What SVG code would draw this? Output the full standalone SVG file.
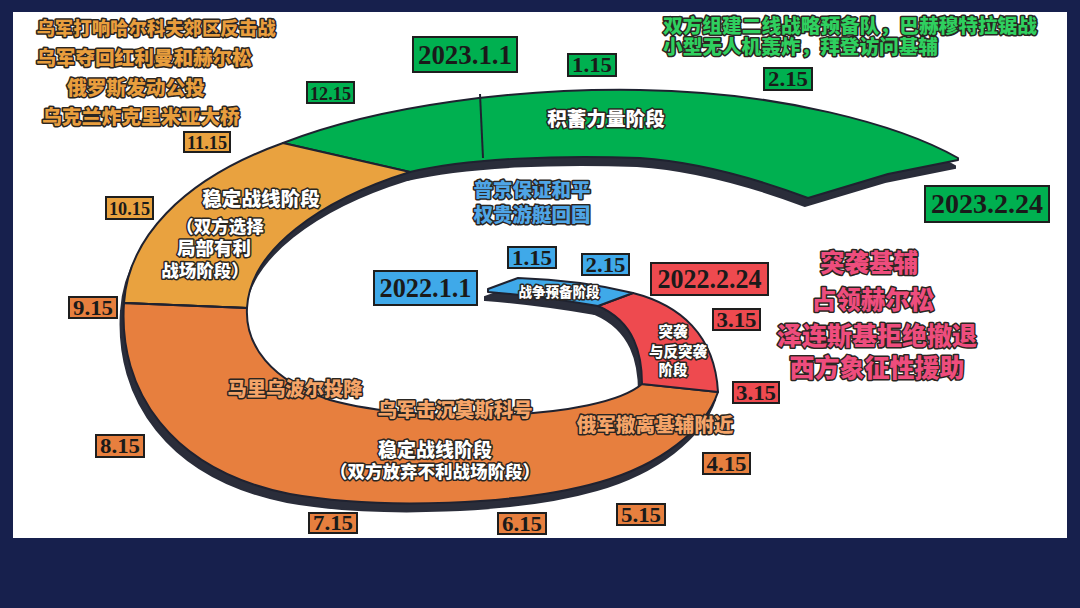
<svg xmlns="http://www.w3.org/2000/svg" width="1080" height="608" viewBox="0 0 1080 608">
<style>
.cj{font-family:"Noto Sans CJK SC","Noto Sans",sans-serif;font-weight:900;paint-order:stroke;stroke-linejoin:round;stroke:#2a2622;stroke-width:3}
.w{fill:#ffffff}
.or{fill:#E99E3D}
.gr{fill:#2FD05F}
.bl{fill:#4FA5E6}
.pk{fill:#EE4D7D}
.pe{fill:#F5A468}
.bx{stroke:#1e1e1e;stroke-width:2}
.dt{font-family:"Liberation Serif",serif;font-weight:bold;fill:#1a1a1a;text-anchor:middle}
.band{stroke:#1f2230;stroke-width:2;stroke-linejoin:round}
.sh{fill:#2a2d3a;stroke:#2a2d3a;stroke-width:2}
.sep{stroke:#1f2230;stroke-width:2;fill:none}
.c{text-anchor:middle}
</style>
<rect x="0" y="0" width="1080" height="608" fill="#17204D"/>
<rect x="13" y="12" width="1054" height="526" fill="#ffffff"/>

<g id="connectors">
<g id="shadows" class="sh" transform="translate(-3,8)">
<path d="M283,143 C380,105 520,88 640,90 C780,92 900,125 958,158 L958,160 L888,174 L808,198 C760,180 700,162 640,158 C560,155 470,158 410,172 Z"/>
<path d="M124,303 C128,240 180,180 283,143 L410,172 C320,200 250,250 247,308 Z"/>
<path d="M124,303 C118,390 170,470 290,494 C380,510 520,505 600,482 C660,465 705,430 718,392 L642,384 C600,420 420,425 330,400 C270,380 245,345 247,308 Z"/>
<path d="M633,293 C680,305 715,335 718,392 L642,384 C642,355 635,322 598,306 Z"/>
<path d="M488,289 L518,278 Q580,280 633,293 L598,306 Q540,296 488,292 Z"/>
</g>
</g>

<g id="stage-accumulate">
<path class="band" fill="#00B050" d="M283,143 C380,105 520,88 640,90 C780,92 900,125 958,158 L958,160 L888,174 L808,198 C760,180 700,162 640,158 C560,155 470,158 410,172 Z"/>
<line class="sep" x1="480" y1="94" x2="483" y2="158"/>
<text class="cj w c" x="606" y="126" font-size="19.6">积蓄力量阶段</text>
</g>

<g id="stage-stable-local">
<path class="band" fill="#E9A23F" d="M124,303 C128,240 180,180 283,143 L410,172 C320,200 250,250 247,308 Z"/>
<text class="cj w c" x="261" y="206" font-size="19.6">稳定战线阶段</text>
<text class="cj w c" x="220" y="233" font-size="17.5">（双方选择</text>
<text class="cj w c" x="214" y="255" font-size="18.5">局部有利</text>
<text class="cj w c" x="205" y="277" font-size="17.5">战场阶段）</text>
</g>

<g id="stage-stable-abandon">
<path class="band" fill="#E77F3E" d="M124,303 C118,390 170,470 290,494 C380,510 520,505 600,482 C660,465 705,430 718,392 L642,384 C600,420 420,425 330,400 C270,380 245,345 247,308 Z"/>
<line class="sep" x1="124" y1="303" x2="247" y2="308"/>
<text class="cj w c" x="435" y="457" font-size="19">稳定战线阶段</text>
<text class="cj w c" x="435" y="478" font-size="17.5">（双方放弃不利战场阶段）</text>
</g>

<g id="stage-raid">
<path class="band" fill="#EE4A4F" d="M633,293 C680,305 715,335 718,392 L642,384 C642,355 635,322 598,306 Z"/>
<text class="cj w c" x="673" y="337" font-size="14.5">突袭</text>
<text class="cj w c" x="678" y="357" font-size="14.5">与反突袭</text>
<text class="cj w c" x="673" y="375" font-size="14.5">阶段</text>
</g>

<g id="stage-prepare">
<path class="band" fill="#3FA9E9" d="M488,289 L518,278 Q580,280 633,293 L598,306 Q540,296 488,292 Z"/>
<text class="cj w c" x="559" y="297" font-size="13.5" stroke-width="2.5">战争预备阶段</text>
</g>

<g id="events-2022-blue">
<text class="cj bl c" x="532" y="197" font-size="19.5">普京保证和平</text>
<text class="cj bl c" x="532" y="222" font-size="19.5">权贵游艇回国</text>
</g>

<g id="events-2022-red">
<text class="cj pk c" x="869" y="272" font-size="24.5">突袭基辅</text>
<text class="cj pk c" x="873" y="309" font-size="24.5">占领赫尔松</text>
<text class="cj pk c" x="877" y="345" font-size="25">泽连斯基拒绝撤退</text>
<text class="cj pk c" x="877" y="377" font-size="25">西方象征性援助</text>
</g>

<g id="events-orange">
<text class="cj pe c" x="295" y="396" font-size="19.3">马里乌波尔投降</text>
<text class="cj pe c" x="455" y="417" font-size="19.4">乌军击沉莫斯科号</text>
<text class="cj pe c" x="655" y="432" font-size="19.6">俄军撤离基辅附近</text>
</g>

<g id="events-topleft">
<text class="cj or c" x="156" y="35" font-size="18.4">乌军打响哈尔科夫郊区反击战</text>
<text class="cj or c" x="144" y="65" font-size="19.6">乌军夺回红利曼和赫尔松</text>
<text class="cj or c" x="136" y="95" font-size="19.7">俄罗斯发动公投</text>
<text class="cj or c" x="141" y="124" font-size="19.8">乌克兰炸克里米亚大桥</text>
</g>

<g id="events-green">
<text class="cj gr" x="663" y="33" font-size="19" textLength="374" lengthAdjust="spacingAndGlyphs">双方组建二线战略预备队，巴赫穆特拉锯战</text>
<text class="cj gr" x="663" y="54" font-size="19" textLength="275" lengthAdjust="spacingAndGlyphs">小型无人机轰炸，拜登访问基辅</text>
</g>

<g id="date-2022-1-1"><rect class="bx" x="374" y="271" width="103" height="34" fill="#3FA9E9"/><text class="dt" x="425.5" y="297" font-size="27" textLength="92" lengthAdjust="spacingAndGlyphs">2022.1.1</text></g>
<g id="date-b-1-15"><rect class="bx" x="508" y="247" width="48" height="21" fill="#3FA9E9"/><text class="dt" x="532" y="265" font-size="20" textLength="40" lengthAdjust="spacingAndGlyphs">1.15</text></g>
<g id="date-b-2-15"><rect class="bx" x="582" y="254" width="47" height="21" fill="#3FA9E9"/><text class="dt" x="605.5" y="272" font-size="20" textLength="40" lengthAdjust="spacingAndGlyphs">2.15</text></g>
<g id="date-2022-2-24"><rect class="bx" x="651" y="263" width="117" height="32" fill="#EE4A4F"/><text class="dt" x="709.5" y="288" font-size="27" textLength="104" lengthAdjust="spacingAndGlyphs">2022.2.24</text></g>
<g id="date-r-3-15a"><rect class="bx" x="713" y="309" width="47" height="21" fill="#EE4A4F"/><text class="dt" x="736.5" y="327" font-size="20" textLength="40" lengthAdjust="spacingAndGlyphs">3.15</text></g>
<g id="date-r-3-15b"><rect class="bx" x="733" y="382" width="46" height="21" fill="#EE4A4F"/><text class="dt" x="756" y="400" font-size="20" textLength="40" lengthAdjust="spacingAndGlyphs">3.15</text></g>
<g id="date-4-15"><rect class="bx" x="703" y="453" width="47" height="21" fill="#E77F3E"/><text class="dt" x="726.5" y="471" font-size="20" textLength="40" lengthAdjust="spacingAndGlyphs">4.15</text></g>
<g id="date-5-15"><rect class="bx" x="617" y="504" width="48" height="21" fill="#E77F3E"/><text class="dt" x="641" y="522" font-size="20" textLength="40" lengthAdjust="spacingAndGlyphs">5.15</text></g>
<g id="date-6-15"><rect class="bx" x="498" y="513" width="48" height="21" fill="#E77F3E"/><text class="dt" x="522" y="531" font-size="20" textLength="40" lengthAdjust="spacingAndGlyphs">6.15</text></g>
<g id="date-7-15"><rect class="bx" x="309" y="513" width="48" height="20" fill="#E77F3E"/><text class="dt" x="333" y="530" font-size="20" textLength="40" lengthAdjust="spacingAndGlyphs">7.15</text></g>
<g id="date-8-15"><rect class="bx" x="96" y="435" width="48" height="22" fill="#E77F3E"/><text class="dt" x="120" y="453" font-size="20" textLength="40" lengthAdjust="spacingAndGlyphs">8.15</text></g>
<g id="date-9-15"><rect class="bx" x="69" y="297" width="48" height="21" fill="#E77F3E"/><text class="dt" x="93" y="315" font-size="20" textLength="40" lengthAdjust="spacingAndGlyphs">9.15</text></g>
<g id="date-10-15"><rect class="bx" x="106" y="197" width="47" height="22" fill="#E9A23F"/><text class="dt" x="129.5" y="215" font-size="19" textLength="41" lengthAdjust="spacingAndGlyphs">10.15</text></g>
<g id="date-11-15"><rect class="bx" x="184" y="132" width="46" height="20" fill="#E9A23F"/><text class="dt" x="207" y="149" font-size="19" textLength="40" lengthAdjust="spacingAndGlyphs">11.15</text></g>
<g id="date-12-15"><rect class="bx" x="307" y="82" width="47" height="21" fill="#00B050"/><text class="dt" x="330.5" y="100" font-size="19" textLength="41" lengthAdjust="spacingAndGlyphs">12.15</text></g>
<g id="date-2023-1-1"><rect class="bx" x="413" y="37" width="104" height="35" fill="#00B050"/><text class="dt" x="465" y="64" font-size="27" textLength="94" lengthAdjust="spacingAndGlyphs">2023.1.1</text></g>
<g id="date-g-1-15"><rect class="bx" x="568" y="54" width="48" height="22" fill="#00B050"/><text class="dt" x="592" y="72" font-size="20" textLength="40" lengthAdjust="spacingAndGlyphs">1.15</text></g>
<g id="date-g-2-15"><rect class="bx" x="764" y="68" width="48" height="22" fill="#00B050"/><text class="dt" x="788" y="86" font-size="20" textLength="40" lengthAdjust="spacingAndGlyphs">2.15</text></g>
<g id="date-2023-2-24"><rect class="bx" x="925" y="186" width="124" height="36" fill="#00B050"/><text class="dt" x="987" y="213" font-size="28" textLength="112" lengthAdjust="spacingAndGlyphs">2023.2.24</text></g>
</svg>
